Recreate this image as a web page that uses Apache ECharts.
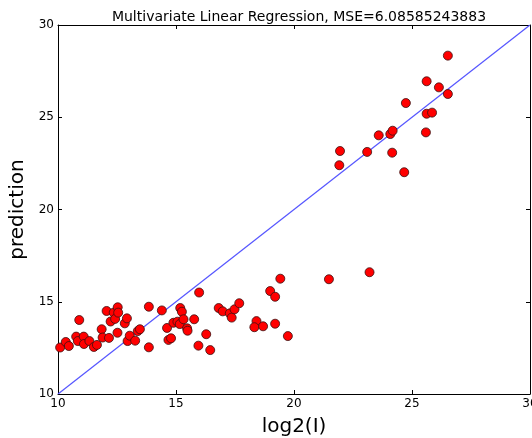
<!DOCTYPE html>
<html>
<head>
<meta charset="utf-8">
<script src="https://cdn.jsdelivr.net/npm/echarts@6/dist/echarts.min.js"></script>
<style>
  html, body { margin: 0; padding: 0; background: #fff; }
  #chart { width: 532px; height: 438px; }
</style>
</head>
<body>
<div id="chart"></div>
<script>
// measured log2(I) vs predicted value
var xTicks = [10, 15, 20, 25, 30];
var yTicks = [10, 15, 20, 25, 30];
var measured = [
    10.09, 10.33, 10.46, 10.90, 10.77, 10.84, 11.09, 11.10, 11.33, 11.52,
    11.65, 11.85, 11.89, 12.06, 12.16, 12.23, 12.36, 12.42, 12.53, 12.55,
    12.52, 12.83, 12.92, 12.95, 13.04, 13.27, 13.38, 13.47, 13.85, 13.85,
    14.40, 14.62, 14.68, 14.79, 14.89, 15.06, 15.18, 15.25, 15.16, 15.32,
    15.47, 15.49, 15.77, 15.98, 15.95, 16.28, 16.45, 16.81, 16.98, 17.28,
    17.36, 17.48, 17.68, 18.41, 18.32, 18.69, 19.20, 19.74, 18.99, 19.20,
    19.42, 21.48, 23.20, 21.95, 21.92, 23.10, 23.59, 24.08, 24.18, 24.16,
    24.67, 24.74, 25.59, 25.62, 25.85, 25.62, 26.14, 26.52, 26.52
];
var predicted = [
    12.52, 12.82, 12.60, 14.01, 13.11, 12.87, 13.11, 12.71, 12.87, 12.55,
    12.66, 13.51, 13.06, 14.50, 13.04, 13.93, 14.41, 14.07, 14.70, 14.41,
    13.32, 13.83, 14.10, 12.87, 13.16, 12.89, 13.41, 13.51, 14.73, 12.53,
    14.53, 13.58, 12.93, 13.02, 13.86, 13.92, 14.66, 14.46, 13.79, 14.05,
    13.56, 13.43, 14.05, 15.50, 12.62, 13.24, 12.38, 14.66, 14.48, 14.37,
    14.14, 14.59, 14.92, 13.95, 13.62, 13.67, 13.81, 13.14, 15.58, 15.27,
    16.25, 16.22, 16.60, 23.17, 22.40, 23.12, 24.02, 24.09, 24.27, 23.08,
    22.02, 25.77, 24.18, 25.19, 25.25, 26.95, 26.62, 26.26, 28.34
];
var idealLine = [[10, 10], [30, 30]];

var points = measured.map(function (x, i) { return [x, predicted[i]]; });

var font = 'DejaVu Sans';
var frameLine = { show: true, lineStyle: { color: '#000', width: 1 } };
var tickIn = { show: true, inside: true, length: 4, lineStyle: { color: '#000' } };

var chart = echarts.init(document.getElementById('chart'));
chart.setOption({
    animation: false,
    backgroundColor: '#fff',
    title: {
        text: 'Multivariate Linear Regression, MSE=6.08585243883',
        left: 294, top: 5, textAlign: 'center',
        textStyle: { fontFamily: font, fontSize: 14, fontWeight: 'normal', color: '#000' }
    },
    grid: { left: 58, right: 2, top: 25, bottom: 44, containLabel: false, outerBoundsMode: 'none' },
    xAxis: [{
        type: 'value', min: 10, max: 30, interval: 5,
        name: 'log2(I)', nameLocation: 'middle', nameGap: 23,
        nameTextStyle: { fontFamily: font, fontSize: 20, color: '#000' },
        axisLine: frameLine, axisTick: tickIn, splitLine: { show: false },
        axisLabel: {
            fontFamily: font, fontSize: 12, color: '#000', margin: 4,
            formatter: function (v) { return xTicks.indexOf(v) >= 0 ? String(v) : ''; }
        }
    }, {
        type: 'value', min: 10, max: 30, interval: 5, position: 'top',
        axisLine: frameLine, axisTick: tickIn, axisLabel: { show: false }, splitLine: { show: false }
    }],
    yAxis: [{
        type: 'value', min: 10, max: 30, interval: 5,
        name: 'prediction', nameLocation: 'middle', nameGap: 19,
        nameTextStyle: { fontFamily: font, fontSize: 20, color: '#000' },
        axisLine: frameLine, axisTick: tickIn, splitLine: { show: false },
        axisLabel: {
            fontFamily: font, fontSize: 12, color: '#000', margin: 4,
            formatter: function (v) { return yTicks.indexOf(v) >= 0 ? String(v) : ''; }
        }
    }, {
        type: 'value', min: 10, max: 30, interval: 5, position: 'right',
        axisLine: frameLine, axisTick: tickIn, axisLabel: { show: false }, splitLine: { show: false }
    }],
    series: [{
        type: 'line',
        data: idealLine,
        symbol: 'none',
        silent: true,
        lineStyle: { color: '#5555ff', width: 1.2 },
        z: 2
    }, {
        type: 'scatter',
        data: points,
        symbolSize: 9,
        itemStyle: { color: '#ff0000', borderColor: '#3a1010', borderWidth: 0.8, opacity: 1 },
        z: 3
    }]
});
</script>
</body>
</html>
